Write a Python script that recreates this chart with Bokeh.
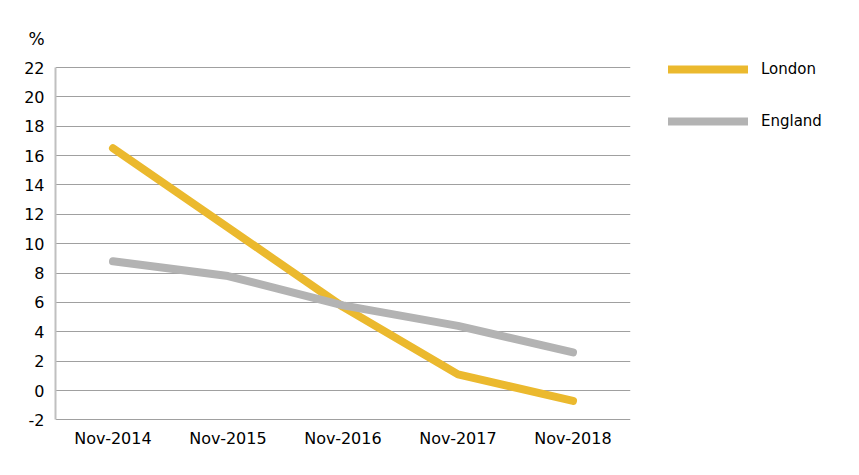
from bokeh.plotting import figure
from bokeh.models import Legend, LegendItem, FixedTicker, Title
from bokeh.embed import file_html
from bokeh.resources import INLINE

categories = ["Nov-2014", "Nov-2015", "Nov-2016", "Nov-2017", "Nov-2018"]
london = [16.5, 11.1, 5.7, 1.1, -0.7]
england = [8.8, 7.8, 5.8, 4.4, 2.6]
y_ticks = [-2, 0, 2, 4, 6, 8, 10, 12, 14, 16, 18, 20, 22]
series_names = ["London", "England"]

FONT = "DejaVu Sans"
YELLOW = "#EBB92E"
GREY = "#B3B3B3"

p = figure(x_range=categories, y_range=(-2.04, 22.545),
           frame_width=575, frame_height=361,
           output_backend="svg", toolbar_location=None,
           min_border_left=55, min_border_right=229, min_border_top=59, min_border_bottom=42)
p.outline_line_color = None
p.background_fill_color = "white"

r1 = p.line(categories, london, line_color=YELLOW, line_width=8, line_cap="round", line_join="round")
r2 = p.line(categories, england, line_color=GREY, line_width=8, line_cap="round", line_join="round")

p.xgrid.grid_line_color = None
p.ygrid.grid_line_color = "#a0a0a0"
p.ygrid.grid_line_width = 1
p.yaxis.ticker = FixedTicker(ticks=y_ticks)
p.yaxis.bounds = (-2, 22)
p.yaxis.major_label_overrides = {t: str(t) for t in y_ticks}
p.yaxis.axis_line_color = "#c0c0c0"
p.yaxis.axis_line_width = 2
p.yaxis.major_tick_line_color = None
p.yaxis.minor_tick_line_color = None
p.yaxis.major_label_text_font = FONT
p.yaxis.major_label_text_font_size = "16px"
p.yaxis.major_label_text_color = "#000000"
p.yaxis.major_label_standoff = 5

p.xaxis.axis_line_color = None
p.xaxis.major_tick_line_color = None
p.xaxis.minor_tick_line_color = None
p.xaxis.major_label_text_font = FONT
p.xaxis.major_label_text_font_size = "16px"
p.xaxis.major_label_text_color = "#000000"
p.xaxis.major_label_standoff = 2

t = Title(text="%", text_font=FONT, text_font_size="17px", text_font_style="normal",
          text_color="#000000", align="left", offset=-27, standoff=22)
p.add_layout(t, "above")

legend = Legend(items=[LegendItem(label=series_names[0], renderers=[r1]),
                       LegendItem(label=series_names[1], renderers=[r2])],
                location=(38, 361 - 72), orientation="vertical",
                glyph_width=80, glyph_height=20, label_height=20,
                label_standoff=13, spacing=32, padding=0, margin=0,
                border_line_color=None, background_fill_alpha=0,
                label_text_font=FONT, label_text_font_size="15px",
                label_text_color="#000000")
p.add_layout(legend, "right")

open("out.html", "w").write(file_html(p, INLINE))
